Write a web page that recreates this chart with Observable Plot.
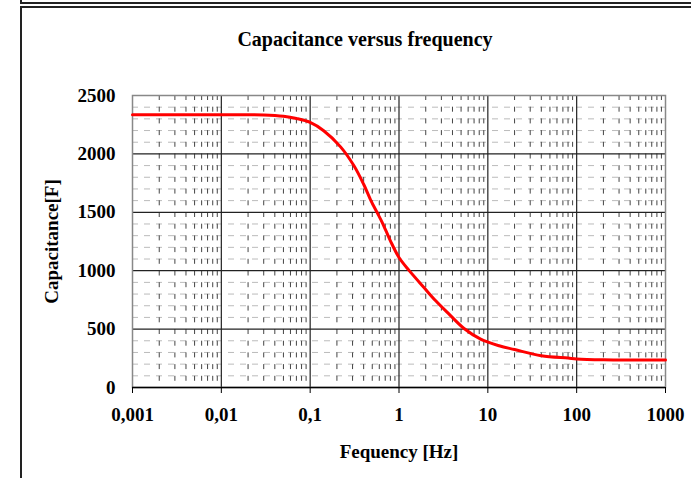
<!DOCTYPE html>
<html>
<head>
<meta charset="utf-8">
<script src="https://cdn.jsdelivr.net/npm/d3@7"></script>
<script src="https://cdn.jsdelivr.net/npm/@observablehq/plot@0.6"></script>
<style>
  html, body { margin: 0; padding: 0; background: #fff; }
  #wrap { position: relative; width: 691px; height: 478px; overflow: hidden; font-family: "Liberation Serif", "Times New Roman", serif; }
  .box { position: absolute; border: 2px solid #222; box-sizing: border-box; }
  #title { position: absolute; left: 0; width: 730px; top: 28px; text-align: center; font-weight: bold; font-size: 20px; }
  #chart { position: absolute; left: 0; top: 0; }
</style>
</head>
<body>
<div id="wrap">
  <div class="box" style="left:20px; top:-20px; width:800px; height:24px;"></div>
  <div class="box" style="left:20px; top:6px; width:800px; height:600px;"></div>
  <div id="title">Capacitance versus frequency</div>
  <div id="chart"></div>
</div>
<script>
const title = "Capacitance versus frequency";
const xLabel = "Fequency [Hz]";
const yLabel = "Capacitance[F]";
const xTicks = [0.001, 0.01, 0.1, 1, 10, 100, 1000];
const yTicks = [0, 500, 1000, 1500, 2000, 2500];
const frequency = [0.001, 0.01, 0.03, 0.05, 0.07, 0.1, 0.142, 0.22, 0.31, 0.40, 0.48, 0.57, 0.64, 0.71, 0.8, 1, 1.29, 1.91, 2.59, 3.66, 5.4, 8.3, 13.4, 20, 40, 80, 100, 200, 1000];
const capacitance = [2335, 2335, 2333, 2322, 2303, 2269, 2198, 2060, 1900, 1740, 1605, 1495, 1420, 1345, 1256, 1113, 1005, 856, 742, 628, 505, 414, 357, 325, 272, 252, 245, 238, 235];

const data = frequency.map((f, i) => ({f, c: capacitance[i]}));
const minorX = [];
for (let e = -3; e < 3; e++) for (let m = 2; m <= 9; m++) minorX.push(m * Math.pow(10, e));
const minorY = d3.range(100, 2500, 100).filter(v => v % 500 !== 0);
const majorY = [500, 1000, 1500, 2000];
const majorX = [0.01, 0.1, 1, 10, 100];

const plot = Plot.plot({
  width: 691,
  height: 478,
  marginLeft: 132,
  marginRight: 26,
  marginTop: 95,
  marginBottom: 91,
  style: {fontFamily: "'Liberation Serif', 'Times New Roman', serif", fontWeight: "bold", fontSize: "19px", background: "transparent", color: "#000"},
  x: {type: "log", domain: [0.001, 1000]},
  y: {domain: [0, 2500]},
  marks: [
    Plot.ruleY(minorY, {stroke: "#bbb", strokeDasharray: "6,6"}),
    Plot.ruleX(minorX, {stroke: "#444", strokeDasharray: "5,6.7"}),
    Plot.ruleX(majorX, {stroke: "#222", strokeWidth: 1.2}),
    Plot.ruleY(majorY, {stroke: "#222", strokeWidth: 1.2}),
    Plot.frame({stroke: "#888", strokeWidth: 1.5}),
    Plot.ruleY([0], {stroke: "#000", strokeWidth: 1.5}),
    Plot.axisX(xTicks, {
      tickSize: 6, tickPadding: 14,
      tickFormat: d => String(d).replace(".", ","),
      label: xLabel, labelAnchor: "center", labelArrow: "none", labelOffset: 70,
      fontSize: 19, letterSpacing: 1
    }),
    Plot.axisY(yTicks, {
      tickSize: 0, tickPadding: 17,
      tickFormat: d => String(d),
      label: yLabel, labelAnchor: "center", labelArrow: "none", labelOffset: 88,
      fontSize: 19, letterSpacing: 1
    }),
    Plot.line(data, {x: "f", y: "c", stroke: "#ff0000", strokeWidth: 3, curve: "catmull-rom"})
  ]
});
document.getElementById("chart").appendChild(plot);
</script>
</body>
</html>
